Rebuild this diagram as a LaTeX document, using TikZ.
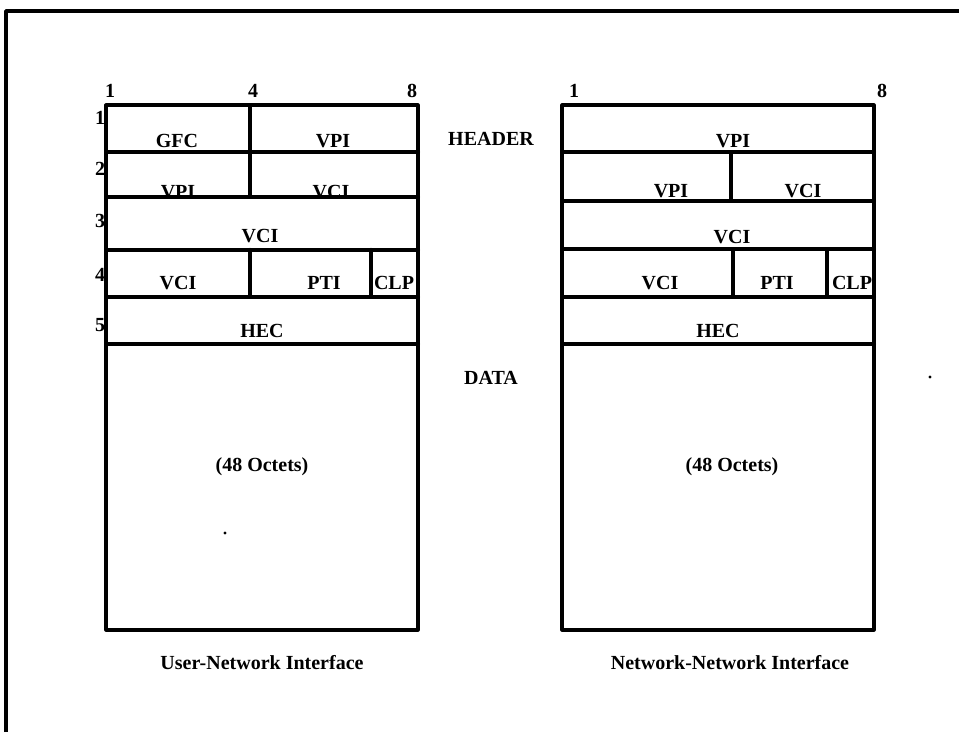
\documentclass[tikz,border=0pt]{standalone}
\usepackage{fontspec}
\setmainfont{Liberation Serif}
\begin{document}
\begin{tikzpicture}[x=1pt,y=-1pt,line join=round,line cap=round,
  frm/.style={line width=3.2pt},
  sep/.style={line width=4pt},
  lbl/.style={inner sep=0pt,font=\fontsize{20}{20}\selectfont\bfseries},
  num/.style={inner sep=0pt,font=\fontsize{20}{20}\selectfont\bfseries}]
\useasboundingbox (0,0) rectangle (959,732);
% outer frame (cut off at right and bottom)
\draw[line width=3.6pt,line cap=butt] (6,732) -- (6,11) -- (959,11);

% ---------- left: User-Network Interface ----------
\draw[frm] (106,105) rectangle (418,630);
\draw[sep] (106,152) -- (418,152);
\draw[sep] (106,197) -- (418,197);
\draw[sep] (106,249.5) -- (418,249.5);
\draw[sep] (106,296.5) -- (418,296.5);
\draw[sep] (106,344) -- (418,344);
\draw[frm] (250,105) -- (250,197);
\draw[frm] (250,249.5) -- (250,296.5);
\draw[frm] (371,249.5) -- (371,296.5);

\node[num] (lt1) at (110,91) {1};
\node[num] (lt4) at (253,91) {4};
\node[num] (lt8) at (412,91) {8};
\node[num] (lr1) at (100,118) {1};
\node[num] (lr2) at (100,169) {2};
\node[num] (lr3) at (100,221) {3};
\node[num] (lr4) at (100,275) {4};
\node[num] (lr5) at (100,325) {5};

\node[lbl] (lgfc) at (177,141) {GFC};
\node[lbl] (lvpi1) at (333,141) {VPI};
\node[lbl] (lvpi2) at (178,192) {VPI};
\node[lbl] (lvci2) at (331,192) {VCI};
\node[lbl] (lvci3) at (260,236) {VCI};
\node[lbl] (lvci4) at (178,283) {VCI};
\node[lbl] (lpti) at (324,283) {PTI};
\node[lbl] (lclp) at (394,283) {CLP};
\node[lbl] (lhec) at (262,331) {HEC};
\node[lbl] (loct) at (262,467) {(48 Octets)};
\node[lbl] (lcap) at (262,663) {User-Network Interface};

% ---------- middle ----------
\node[lbl] (header) at (491,139) {HEADER};
\node[lbl] (data) at (491,378) {DATA};

% ---------- right: Network-Network Interface ----------
\draw[frm] (562,105) rectangle (874,630);
\draw[sep] (562,152) -- (874,152);
\draw[sep] (562,201) -- (874,201);
\draw[sep] (562,249) -- (874,249);
\draw[sep] (562,296.5) -- (874,296.5);
\draw[sep] (562,344) -- (874,344);
\draw[frm] (731,152) -- (731,201);
\draw[frm] (733,249) -- (733,296.5);
\draw[frm] (827,249) -- (827,296.5);

\node[num] (rt1) at (574,91) {1};
\node[num] (rt8) at (882,91) {8};

\node[lbl] (rvpi1) at (733,141) {VPI};
\node[lbl] (rvpi2) at (671,191) {VPI};
\node[lbl] (rvci2) at (803,191) {VCI};
\node[lbl] (rvci3) at (732,237) {VCI};
\node[lbl] (rvci4) at (660,283) {VCI};
\node[lbl] (rpti) at (777,283) {PTI};
\node[lbl] (rclp) at (852,283) {CLP};
\node[lbl] (rhec) at (718,331) {HEC};
\node[lbl] (roct) at (732,467) {(48 Octets)};
\node[lbl] (rcap) at (730,663) {Network-Network Interface};

% specks
\fill (930,377) circle (1.6);
\fill (225,533) circle (1.6);
\end{tikzpicture}
\end{document}
